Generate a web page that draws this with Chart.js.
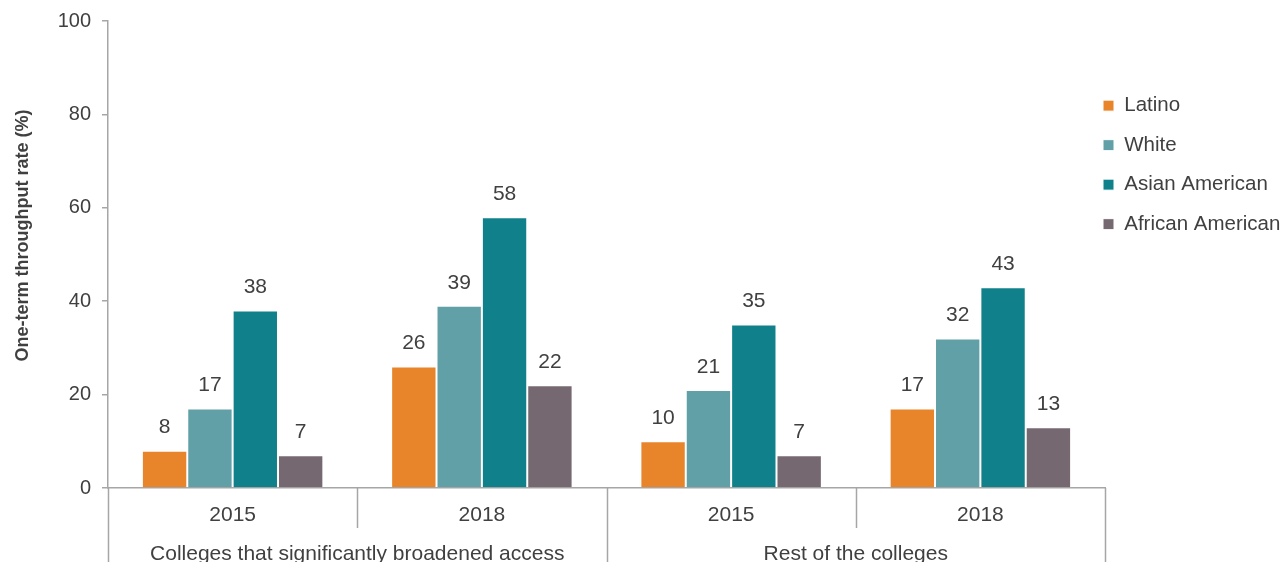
<!DOCTYPE html>
<html>
<head>
<meta charset="utf-8">
<script src="https://cdn.jsdelivr.net/npm/chart.js@4.4.1/dist/chart.umd.min.js"></script>
<style>
  html, body { margin: 0; padding: 0; background: #fff; }
  #contenedor { width: 1284px; height: 562px; position: relative; }
</style>
</head>
<body>
<div id="contenedor"><canvas id="grafica"></canvas></div>
<script>
// datos de la grafica
const anios = ['2015', '2018', '2015', '2018'];
const grupos = ['Colleges that significantly broadened access', 'Rest of the colleges'];
const latino = [8, 26, 10, 17];
const white = [17, 39, 21, 32];
const asianAmerican = [38, 58, 35, 43];
const africanAmerican = [7, 22, 7, 13];
const ticksY = [0, 20, 40, 60, 80, 100];
const tituloY = 'One-term throughput rate (%)';

const fuente = 'Arial, "Liberation Sans", sans-serif';
const colorTexto = '#404040';
const colorEje = '#a6a6a6';

// etiquetas de valor encima de cada barra
const etiquetasValor = {
    id: 'etiquetasValor',
    afterDatasetsDraw(chart) {
        const ctx = chart.ctx;
        ctx.save();
        ctx.font = '21px ' + fuente;
        ctx.fillStyle = colorTexto;
        ctx.textAlign = 'center';
        ctx.textBaseline = 'middle';
        chart.data.datasets.forEach((ds, i) => {
            chart.getDatasetMeta(i).data.forEach((barra, j) => {
                ctx.fillText(ds.data[j], barra.x, barra.y - 23);
            });
        });
        ctx.restore();
    }
};

// separadores y nombres de los grupos bajo el eje x, y titulo del eje y
const ejeGrupos = {
    id: 'ejeGrupos',
    afterDraw(chart) {
        const ctx = chart.ctx;
        const x = chart.scales.x;
        const abajo = chart.chartArea.bottom;
        const paso = x.getPixelForValue(1) - x.getPixelForValue(0);
        ctx.save();
        ctx.strokeStyle = colorEje;
        ctx.lineWidth = 1.5;
        for (let i = 0; i <= anios.length; i++) {
            const px = Math.round(x.getPixelForValue(i) - paso / 2) + 0.5;
            const largo = (i % 2 === 0) ? chart.height : abajo + 40;
            ctx.beginPath();
            ctx.moveTo(px, abajo);
            ctx.lineTo(px, largo);
            ctx.stroke();
        }
        ctx.font = '21px ' + fuente;
        ctx.fillStyle = colorTexto;
        ctx.textAlign = 'center';
        ctx.textBaseline = 'middle';
        grupos.forEach((nombre, g) => {
            const centro = (x.getPixelForValue(g * 2) + x.getPixelForValue(g * 2 + 1)) / 2;
            ctx.fillText(nombre, centro, abajo + 66);
        });

        // el titulo va algo por encima del centro del eje
        const y = chart.scales.y;
        ctx.translate(23, y.getPixelForValue(50) - 19);
        ctx.rotate(-Math.PI / 2);
        ctx.font = 'bold 18px ' + fuente;
        ctx.fillText(tituloY, 0, 0);
        ctx.restore();
    }
};

// leyenda de ancho fijo, pegada al borde del area de la grafica
const ajusteLeyenda = {
    id: 'ajusteLeyenda',
    beforeInit(chart) {
        const fitOriginal = chart.legend.fit;
        chart.legend.fit = function () {
            fitOriginal.bind(chart.legend)();
            this.width = 179;
        };
    },
    afterLayout(chart) {
        chart.legend.left = chart.chartArea.right - chart.legend.options.labels.padding - 2;
    }
};

function dataset(label, data, color) {
    return {
        label: label,
        data: data,
        backgroundColor: color,
        borderColor: '#ffffff',
        borderWidth: 1,
        categoryPercentage: 0.728,
        barPercentage: 1
    };
}

document.addEventListener('DOMContentLoaded', () => {
    const lienzo = document.getElementById('grafica');
    new Chart(lienzo, {
        type: 'bar',
        data: {
            labels: anios,
            datasets: [
                dataset('Latino', latino, '#e8842a'),
                dataset('White', white, '#62a0a7'),
                dataset('Asian American', asianAmerican, '#10818a'),
                dataset('African American', africanAmerican, '#766870')
            ]
        },
        options: {
            responsive: true,
            maintainAspectRatio: false,
            animation: false,
            layout: { padding: { top: 20, left: 0, right: 0, bottom: 0 } },
            plugins: {
                tooltip: { enabled: false },
                legend: {
                    position: 'right',
                    align: 'start',
                    title: { display: true, text: '', padding: { top: 42, bottom: 0 } },
                    labels: {
                        boxWidth: 11,
                        boxHeight: 11,
                        padding: 19,
                        color: colorTexto,
                        font: { family: fuente, size: 20.5 }
                    }
                }
            },
            scales: {
                x: {
                    grid: { display: false },
                    border: { display: true, color: colorEje, width: 1.5 },
                    ticks: {
                        color: colorTexto,
                        padding: 7,
                        font: { family: fuente, size: 21 }
                    },
                    afterFit(escala) { escala.height = 74; }
                },
                y: {
                    min: 0,
                    max: 100,
                    afterBuildTicks(escala) {
                        escala.ticks = ticksY.map(v => ({ value: v }));
                    },
                    grid: {
                        drawOnChartArea: false,
                        drawTicks: true,
                        tickLength: 6,
                        color: colorEje,
                        lineWidth: 1.5
                    },
                    border: { display: true, color: colorEje, width: 1.5 },
                    ticks: {
                        color: colorTexto,
                        padding: 11,
                        font: { family: fuente, size: 20, lineHeight: 1 }
                    },
                    afterFit(escala) { escala.width = 108; }
                }
            }
        },
        plugins: [etiquetasValor, ejeGrupos, ajusteLeyenda]
    });
});
</script>
</body>
</html>
